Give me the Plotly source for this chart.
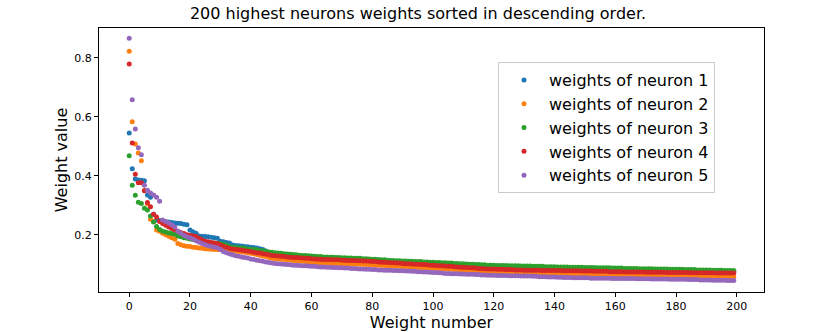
import plotly.graph_objects as go

weight_number = list(range(200))

neuron_1 = [
    0.545, 0.424, 0.389, 0.386, 0.385, 0.383, 0.335, 0.327, 0.270, 0.250,
    0.248, 0.246, 0.244, 0.243, 0.242, 0.240, 0.239, 0.238, 0.236, 0.234,
    0.216, 0.210, 0.205, 0.196, 0.195, 0.194, 0.193, 0.192, 0.190, 0.188,
    0.178, 0.176, 0.174, 0.172, 0.165, 0.164, 0.163, 0.162, 0.160, 0.159,
    0.158, 0.157, 0.155, 0.153, 0.150, 0.145, 0.139, 0.137, 0.135, 0.134,
    0.133, 0.132, 0.131, 0.130, 0.129, 0.128, 0.127, 0.126, 0.126, 0.125,
    0.124, 0.123, 0.122, 0.122, 0.121, 0.121, 0.120, 0.120, 0.119, 0.119,
    0.118, 0.118, 0.117, 0.117, 0.116, 0.116, 0.116, 0.115, 0.115, 0.114,
    0.113, 0.113, 0.112, 0.111, 0.111, 0.110, 0.109, 0.109, 0.108, 0.108,
    0.107, 0.107, 0.106, 0.106, 0.105, 0.105, 0.105, 0.104, 0.104, 0.103,
    0.103, 0.102, 0.102, 0.101, 0.101, 0.100, 0.100, 0.099, 0.099, 0.098,
    0.098, 0.097, 0.096, 0.096, 0.095, 0.095, 0.094, 0.094, 0.093, 0.093,
    0.093, 0.092, 0.092, 0.092, 0.092, 0.091, 0.091, 0.091, 0.091, 0.090,
    0.090, 0.090, 0.090, 0.089, 0.089, 0.089, 0.089, 0.088, 0.088, 0.088,
    0.088, 0.087, 0.087, 0.087, 0.087, 0.086, 0.086, 0.086, 0.086, 0.086,
    0.085, 0.085, 0.085, 0.085, 0.084, 0.084, 0.084, 0.084, 0.084, 0.083,
    0.083, 0.083, 0.083, 0.082, 0.082, 0.082, 0.082, 0.082, 0.081, 0.081,
    0.081, 0.081, 0.081, 0.080, 0.080, 0.080, 0.080, 0.080, 0.079, 0.079,
    0.079, 0.079, 0.079, 0.078, 0.078, 0.078, 0.078, 0.077, 0.077, 0.077,
    0.077, 0.077, 0.076, 0.076, 0.076, 0.076, 0.075, 0.075, 0.075, 0.075,
]

neuron_2 = [
    0.822, 0.583, 0.508, 0.477, 0.451, 0.350, 0.305, 0.253, 0.245, 0.216,
    0.212, 0.205, 0.200, 0.195, 0.190, 0.185, 0.170, 0.166, 0.163, 0.161,
    0.160, 0.158, 0.157, 0.155, 0.154, 0.153, 0.152, 0.151, 0.150, 0.150,
    0.149, 0.148, 0.147, 0.146, 0.145, 0.144, 0.143, 0.142, 0.141, 0.139,
    0.137, 0.135, 0.133, 0.131, 0.128, 0.126, 0.123, 0.120, 0.119, 0.118,
    0.117, 0.116, 0.115, 0.114, 0.113, 0.112, 0.111, 0.110, 0.109, 0.108,
    0.107, 0.106, 0.105, 0.105, 0.104, 0.104, 0.104, 0.103, 0.103, 0.103,
    0.102, 0.102, 0.102, 0.101, 0.101, 0.100, 0.100, 0.100, 0.099, 0.099,
    0.098, 0.097, 0.097, 0.096, 0.096, 0.095, 0.094, 0.094, 0.093, 0.093,
    0.092, 0.092, 0.091, 0.090, 0.090, 0.089, 0.089, 0.088, 0.088, 0.087,
    0.087, 0.086, 0.085, 0.085, 0.084, 0.084, 0.083, 0.082, 0.082, 0.081,
    0.080, 0.080, 0.079, 0.078, 0.078, 0.077, 0.076, 0.076, 0.075, 0.074,
    0.074, 0.074, 0.073, 0.073, 0.073, 0.072, 0.072, 0.072, 0.072, 0.071,
    0.071, 0.071, 0.071, 0.070, 0.070, 0.070, 0.070, 0.069, 0.069, 0.069,
    0.069, 0.068, 0.068, 0.068, 0.068, 0.067, 0.067, 0.067, 0.067, 0.066,
    0.066, 0.066, 0.066, 0.066, 0.065, 0.065, 0.065, 0.065, 0.064, 0.064,
    0.064, 0.064, 0.064, 0.063, 0.063, 0.063, 0.063, 0.062, 0.062, 0.062,
    0.062, 0.061, 0.061, 0.061, 0.061, 0.060, 0.060, 0.060, 0.060, 0.060,
    0.059, 0.059, 0.059, 0.059, 0.059, 0.059, 0.059, 0.059, 0.059, 0.059,
    0.058, 0.058, 0.058, 0.058, 0.058, 0.058, 0.058, 0.058, 0.058, 0.058,
]

neuron_3 = [
    0.468, 0.368, 0.334, 0.310, 0.306, 0.290, 0.284, 0.264, 0.243, 0.228,
    0.218, 0.212, 0.209, 0.206, 0.204, 0.202, 0.196, 0.193, 0.190, 0.188,
    0.186, 0.184, 0.182, 0.180, 0.176, 0.175, 0.174, 0.173, 0.172, 0.171,
    0.170, 0.168, 0.165, 0.160, 0.158, 0.157, 0.156, 0.155, 0.154, 0.152,
    0.151, 0.150, 0.149, 0.147, 0.146, 0.144, 0.142, 0.141, 0.139, 0.138,
    0.137, 0.136, 0.135, 0.134, 0.133, 0.132, 0.131, 0.130, 0.130, 0.129,
    0.128, 0.127, 0.126, 0.126, 0.125, 0.125, 0.124, 0.124, 0.123, 0.123,
    0.122, 0.122, 0.121, 0.121, 0.120, 0.120, 0.120, 0.119, 0.119, 0.118,
    0.117, 0.117, 0.116, 0.115, 0.115, 0.114, 0.113, 0.113, 0.112, 0.112,
    0.111, 0.111, 0.110, 0.110, 0.109, 0.109, 0.109, 0.108, 0.108, 0.107,
    0.107, 0.106, 0.106, 0.105, 0.105, 0.104, 0.104, 0.103, 0.103, 0.102,
    0.102, 0.101, 0.100, 0.100, 0.099, 0.099, 0.098, 0.098, 0.097, 0.097,
    0.097, 0.096, 0.096, 0.096, 0.096, 0.095, 0.095, 0.095, 0.095, 0.094,
    0.094, 0.094, 0.094, 0.093, 0.093, 0.093, 0.093, 0.092, 0.092, 0.092,
    0.092, 0.091, 0.091, 0.091, 0.091, 0.090, 0.090, 0.090, 0.090, 0.090,
    0.089, 0.089, 0.089, 0.089, 0.088, 0.088, 0.088, 0.088, 0.088, 0.087,
    0.087, 0.087, 0.087, 0.086, 0.086, 0.086, 0.086, 0.086, 0.085, 0.085,
    0.085, 0.085, 0.085, 0.084, 0.084, 0.084, 0.084, 0.084, 0.083, 0.083,
    0.083, 0.083, 0.083, 0.082, 0.082, 0.082, 0.082, 0.081, 0.081, 0.081,
    0.081, 0.081, 0.080, 0.080, 0.080, 0.080, 0.079, 0.079, 0.079, 0.079,
]

neuron_4 = [
    0.779, 0.511, 0.405, 0.376, 0.376, 0.349, 0.309, 0.295, 0.270, 0.260,
    0.245, 0.238, 0.232, 0.226, 0.221, 0.217, 0.212, 0.208, 0.204, 0.200,
    0.198, 0.196, 0.194, 0.188, 0.182, 0.178, 0.176, 0.174, 0.172, 0.170,
    0.166, 0.161, 0.158, 0.154, 0.152, 0.151, 0.149, 0.148, 0.146, 0.145,
    0.143, 0.141, 0.139, 0.138, 0.136, 0.134, 0.132, 0.130, 0.129, 0.128,
    0.127, 0.126, 0.125, 0.124, 0.123, 0.123, 0.122, 0.121, 0.120, 0.120,
    0.119, 0.118, 0.117, 0.117, 0.116, 0.116, 0.116, 0.115, 0.115, 0.115,
    0.114, 0.114, 0.113, 0.113, 0.113, 0.112, 0.112, 0.111, 0.111, 0.110,
    0.109, 0.109, 0.108, 0.107, 0.107, 0.106, 0.105, 0.105, 0.104, 0.104,
    0.103, 0.102, 0.102, 0.101, 0.100, 0.100, 0.099, 0.099, 0.098, 0.097,
    0.097, 0.096, 0.095, 0.095, 0.094, 0.093, 0.093, 0.092, 0.091, 0.090,
    0.090, 0.089, 0.088, 0.088, 0.087, 0.086, 0.086, 0.085, 0.084, 0.084,
    0.084, 0.083, 0.083, 0.083, 0.082, 0.082, 0.082, 0.081, 0.081, 0.081,
    0.080, 0.080, 0.080, 0.080, 0.080, 0.080, 0.079, 0.079, 0.079, 0.079,
    0.079, 0.079, 0.079, 0.078, 0.078, 0.078, 0.078, 0.078, 0.078, 0.077,
    0.077, 0.077, 0.077, 0.076, 0.076, 0.076, 0.076, 0.076, 0.075, 0.075,
    0.075, 0.075, 0.075, 0.074, 0.074, 0.074, 0.074, 0.074, 0.074, 0.074,
    0.073, 0.073, 0.073, 0.073, 0.073, 0.073, 0.073, 0.072, 0.072, 0.072,
    0.072, 0.072, 0.072, 0.072, 0.072, 0.071, 0.071, 0.071, 0.071, 0.071,
    0.071, 0.071, 0.071, 0.070, 0.070, 0.070, 0.070, 0.070, 0.070, 0.070,
]

neuron_5 = [
    0.866, 0.658, 0.559, 0.495, 0.471, 0.368, 0.351, 0.342, 0.335, 0.327,
    0.314, 0.250, 0.245, 0.240, 0.233, 0.226, 0.212, 0.205, 0.198, 0.193,
    0.190, 0.186, 0.180, 0.175, 0.170, 0.166, 0.163, 0.160, 0.158, 0.156,
    0.150, 0.143, 0.139, 0.135, 0.132, 0.129, 0.127, 0.125, 0.123, 0.121,
    0.118, 0.116, 0.114, 0.112, 0.110, 0.108, 0.106, 0.104, 0.103, 0.102,
    0.101, 0.100, 0.099, 0.098, 0.097, 0.097, 0.096, 0.095, 0.095, 0.094,
    0.093, 0.093, 0.092, 0.091, 0.091, 0.090, 0.090, 0.089, 0.089, 0.088,
    0.088, 0.087, 0.087, 0.086, 0.086, 0.085, 0.084, 0.084, 0.083, 0.083,
    0.082, 0.082, 0.081, 0.081, 0.080, 0.080, 0.080, 0.079, 0.079, 0.078,
    0.078, 0.077, 0.077, 0.076, 0.076, 0.075, 0.075, 0.074, 0.074, 0.073,
    0.072, 0.072, 0.071, 0.070, 0.069, 0.069, 0.068, 0.068, 0.068, 0.067,
    0.067, 0.066, 0.066, 0.066, 0.065, 0.065, 0.064, 0.064, 0.063, 0.063,
    0.063, 0.062, 0.062, 0.062, 0.062, 0.061, 0.061, 0.061, 0.061, 0.060,
    0.060, 0.060, 0.060, 0.059, 0.059, 0.058, 0.058, 0.058, 0.057, 0.057,
    0.057, 0.056, 0.056, 0.055, 0.055, 0.055, 0.054, 0.054, 0.054, 0.054,
    0.054, 0.054, 0.053, 0.053, 0.053, 0.053, 0.053, 0.053, 0.053, 0.052,
    0.052, 0.052, 0.052, 0.052, 0.052, 0.052, 0.052, 0.051, 0.051, 0.051,
    0.051, 0.051, 0.050, 0.050, 0.050, 0.050, 0.050, 0.050, 0.049, 0.049,
    0.049, 0.049, 0.049, 0.049, 0.048, 0.048, 0.048, 0.048, 0.047, 0.047,
    0.047, 0.047, 0.046, 0.046, 0.046, 0.046, 0.046, 0.045, 0.045, 0.045,
]

series = [neuron_1, neuron_2, neuron_3, neuron_4, neuron_5]
colors = ['#1f77b4', '#ff7f0e', '#2ca02c', '#d62728', '#9467bd']
for s in series:
    assert len(s) == 200, len(s)

font = 'DejaVu Sans'

fig = go.Figure()
for i, (vals, col) in enumerate(zip(series, colors)):
    fig.add_trace(go.Scatter(
        x=weight_number, y=vals, mode='markers',
        name='weights of neuron %d' % (i + 1),
        marker=dict(color=col, size=5, line=dict(width=0)),
    ))

fig.update_layout(
    width=830, height=332,
    margin=dict(l=99, r=66, t=28, b=40, autoexpand=False),
    paper_bgcolor='white', plot_bgcolor='white',
    font=dict(family=font, color='black'),
    title=dict(text='200 highest neurons weights sorted in descending order.',
               x=418 / 830, xref='container', xanchor='center',
               y=1 - 13 / 332, yanchor='middle',
               font=dict(size=16, family=font)),
    legend=dict(x=0.6, y=0.871, xanchor='left', yanchor='top',
                bgcolor='rgba(255,255,255,0.8)', bordercolor='#cccccc',
                borderwidth=1, font=dict(size=16, family=font),
                itemwidth=40, tracegroupgap=0),
)
fig.update_xaxes(
    range=[-9.95, 208.95], tickvals=list(range(0, 201, 20)),
    ticks='outside', ticklen=4, tickcolor='black',
    showline=True, linecolor='black', linewidth=1, mirror=True,
    showgrid=False, zeroline=False,
    tickfont=dict(size=11),
    title=dict(text='Weight number', font=dict(size=16), standoff=4),
)
fig.update_yaxes(
    range=[0.006, 0.901], tickvals=[0.2, 0.4, 0.6, 0.8], tickformat='.1f',
    ticks='outside', ticklen=4, tickcolor='black',
    showline=True, linecolor='black', linewidth=1, mirror=True,
    showgrid=False, zeroline=False,
    tickfont=dict(size=11),
    title=dict(text='Weight value', font=dict(size=16), standoff=2),
)

# the page body has a default 8px margin, drop it so the figure fills the window
fig.write_html('out.html', config={'displayModeBar': False},
               post_script="document.body.style.margin='0';")
